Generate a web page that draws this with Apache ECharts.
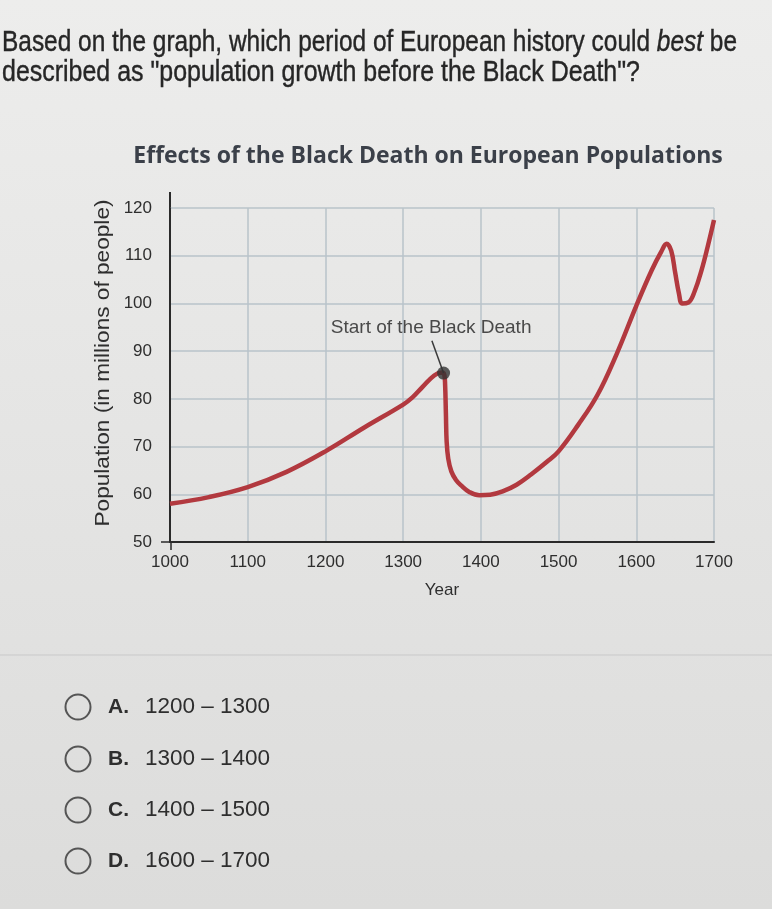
<!DOCTYPE html>
<html>
<head>
<meta charset="utf-8">
<script src="https://cdn.jsdelivr.net/npm/echarts@6/dist/echarts.min.js"></script>
<style>
html,body{margin:0;padding:0;width:772px;height:909px;overflow:hidden;}
#chart{width:772px;height:909px;}
</style>
</head>
<body>
<div id="chart"></div>
<script>
// ---- data ----
const questionLine1Plain = 'Based on the graph, which period of European history could best be';
const questionLine1 = 'Based on the graph, which period of European history could {i|best} be';
const questionLine2 = 'described as "population growth before the Black Death"?';
const chartTitle = 'Effects of the Black Death on European Populations';
const yAxisName = 'Population (in millions of people)';
const xAxisName = 'Year';
const years = [1000,1050,1100,1150,1200,1250,1300,1312,1325,1340,1350,1353,1354,1355,1356,1358,1362,1368,1375,1385,1398,1412,1428,1446,1465,1485,1500,1525,1550,1575,1600,1620,1632,1639,1645,1650,1655,1659,1667,1675,1684,1692,1700];
const population = [58,59.4,61.5,64.7,69,74,78.8,80.3,82.5,84.9,85.5,85,83,77,71,67.5,64.8,63,61.8,60.5,59.8,59.9,60.6,62,64.2,66.8,69,74.5,80.8,89.5,99.5,107,110.8,112.5,111,106.5,102,100,100.2,102.5,107,112,117.5];
const blackDeathPoint = [1352, 85.4];
const annotationText = 'Start of the Black Death';
const annotationAnchor = [1336, 94.9];
const pointerStart = [1337, 92.2];
const optionLetters = ['A.', 'B.', 'C.', 'D.'];
const optionTexts = ['1200 \u2013 1300', '1300 \u2013 1400', '1400 \u2013 1500', '1600 \u2013 1700'];

// ---- layout / style ----
const chart = echarts.init(document.getElementById('chart'), null, {renderer: 'canvas'});
const qFont = '29px "Liberation Sans", Arial, sans-serif';
const nameFont = '21px "Liberation Sans", Arial, sans-serif';
const ctx = document.createElement('canvas').getContext('2d');
ctx.font = qFont;
const q1Scale = 735 / ctx.measureText(questionLine1Plain).width;
const q2Scale = 638 / ctx.measureText(questionLine2).width;
ctx.font = nameFont;
const yNameScale = 327 / ctx.measureText(yAxisName).width;
const optionY = [707, 759, 810, 861];
const textColor = '#2e2e2e';
const graphics = [
  {type: 'text', x: 2, y: 43, scaleX: q1Scale, style: {text: questionLine1, fill: '#262626', stroke: '#262626', lineWidth: 0.4, font: qFont, verticalAlign: 'middle',
    rich: {i: {fontStyle: 'italic', fontSize: 29, fontFamily: '"Liberation Sans", Arial, sans-serif', fill: '#262626'}}}},
  {type: 'text', x: 2, y: 73, scaleX: q2Scale, style: {text: questionLine2, fill: '#262626', stroke: '#262626', lineWidth: 0.4, font: qFont, verticalAlign: 'middle'}},
  {type: 'text', x: 103, y: 363, rotation: Math.PI / 2, scaleX: yNameScale,
    style: {text: yAxisName, fill: textColor, font: nameFont, align: 'center', verticalAlign: 'middle'}},
  {type: 'line', shape: {x1: 0, y1: 655, x2: 772, y2: 655}, style: {stroke: '#c9c9c9', lineWidth: 1}},
  {type: 'line', shape: {x1: 170, y1: 192, x2: 170, y2: 208}, style: {stroke: '#2a2a2a', lineWidth: 2}},
  {type: 'line', shape: {x1: 161, y1: 542, x2: 170, y2: 542}, style: {stroke: '#2a2a2a', lineWidth: 1.5}},
  {type: 'line', shape: {x1: 171, y1: 542, x2: 171, y2: 550}, style: {stroke: '#2a2a2a', lineWidth: 1.5}}
];
optionLetters.forEach((l, i) => {
  graphics.push({type: 'circle', shape: {cx: 78, cy: optionY[i], r: 12.5}, style: {fill: 'none', stroke: '#555', lineWidth: 2}});
  graphics.push({type: 'text', x: 108, y: optionY[i], style: {text: l, fill: textColor, font: 'bold 21px "Liberation Sans", Arial, sans-serif', verticalAlign: 'middle'}});
  graphics.push({type: 'text', x: 145, y: optionY[i], style: {text: optionTexts[i], fill: textColor, font: '22.5px "Liberation Sans", Arial, sans-serif', verticalAlign: 'middle'}});
});

const option = {
  backgroundColor: {type: 'linear', x: 0, y: 0, x2: 0, y2: 1, colorStops: [{offset: 0, color: '#ededec'}, {offset: 1, color: '#dcdcdb'}]},
  animation: false,
  title: {
    text: chartTitle, left: 423, top: 140, textAlign: 'center',
    textStyle: {fontFamily: '"Open Sans", sans-serif', fontWeight: 'bold', fontSize: 23, color: '#3b4049'}
  },
  grid: {left: 170, right: 58, top: 208, bottom: 367},
  xAxis: {
    type: 'value', min: 1000, max: 1700, interval: 100,
    name: xAxisName, nameLocation: 'middle', nameGap: 40,
    nameTextStyle: {fontFamily: '"Liberation Sans", Arial, sans-serif', fontSize: 17, color: textColor},
    axisLine: {show: true, onZero: false, lineStyle: {color: '#2a2a2a', width: 2}},
    axisTick: {show: false},
    axisLabel: {fontFamily: '"Liberation Sans", Arial, sans-serif', fontSize: 17, color: textColor, margin: 12, formatter: v => String(v)},
    splitLine: {show: true, lineStyle: {color: '#b9c3ca', width: 1.5}}
  },
  yAxis: {
    type: 'value', min: 50, max: 120, interval: 10,
    axisLine: {show: true, lineStyle: {color: '#2a2a2a', width: 2}},
    axisTick: {show: false},
    axisLabel: {fontFamily: '"Liberation Sans", Arial, sans-serif', fontSize: 17, color: textColor, margin: 18, formatter: v => String(v)},
    splitLine: {show: true, lineStyle: {color: '#b9c3ca', width: 1.5}}
  },
  series: [
    {
      type: 'line', data: years.map((y, i) => [y, population[i]]),
      smooth: 0.4, showSymbol: false,
      lineStyle: {color: '#b2393f', width: 4.5}, z: 3
    },
    {
      type: 'line', data: [pointerStart, blackDeathPoint], showSymbol: false,
      lineStyle: {color: '#3a3a3a', width: 1.5}, z: 4
    },
    {
      type: 'scatter', data: [blackDeathPoint], symbolSize: 13,
      itemStyle: {color: '#333'}, z: 5
    },
    {
      type: 'scatter', data: [annotationAnchor], symbolSize: 0,
      label: {show: true, position: 'inside', formatter: annotationText,
        fontFamily: '"Liberation Sans", Arial, sans-serif', fontSize: 19, color: '#222'}, z: 5
    }
  ],
  graphic: graphics
};
chart.setOption(option);
</script>
</body>
</html>
